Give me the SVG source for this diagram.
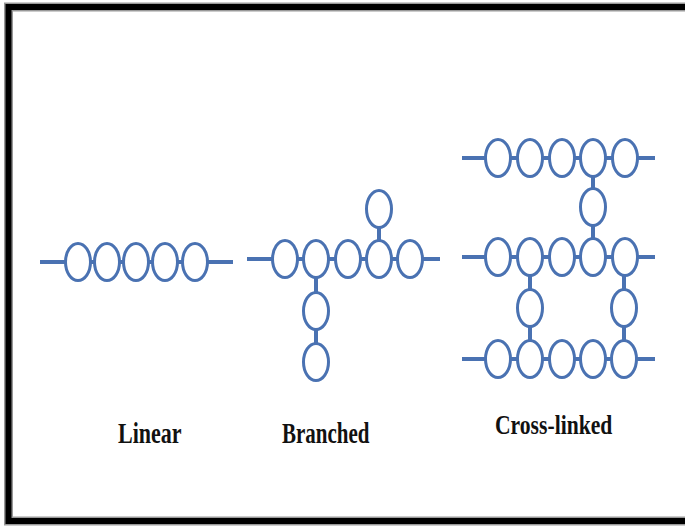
<svg xmlns="http://www.w3.org/2000/svg" width="685" height="528" viewBox="0 0 685 528">
<style>
.ln{stroke:#4a72b2;stroke-width:4;fill:none;stroke-linecap:butt}
.m ellipse{fill:#ffffff;stroke:#4a72b2;stroke-width:3}
.lbl{font-family:"Liberation Serif","Times New Roman",serif;font-weight:bold;font-size:21px;fill:#111111}
</style>
<rect width="685" height="528" fill="#ffffff"/>
<g id="frame">
<path d="M700,7 H8.5 V521 H700" fill="none" stroke="#999999" stroke-width="9"/>
<path d="M700,7 H8.5 V521 H700" fill="none" stroke="#000000" stroke-width="6"/>
</g>
<g id="connectors">
<line class="ln" x1="40" y1="262" x2="233" y2="262"/>
<line class="ln" x1="247" y1="259" x2="440" y2="259"/>
<line class="ln" x1="379" y1="215" x2="379" y2="259"/>
<line class="ln" x1="316" y1="259" x2="316" y2="362"/>
<line class="ln" x1="462" y1="158" x2="655" y2="158"/>
<line class="ln" x1="462" y1="257" x2="655" y2="257"/>
<line class="ln" x1="462" y1="359" x2="655" y2="359"/>
<line class="ln" x1="593" y1="158" x2="593" y2="257"/>
<line class="ln" x1="530" y1="257" x2="530" y2="359"/>
<line class="ln" x1="624" y1="257" x2="624" y2="359"/>
</g>
<g id="linear" class="m">
<ellipse cx="78" cy="262" rx="12.5" ry="18.5"/>
<ellipse cx="107" cy="262" rx="12.5" ry="18.5"/>
<ellipse cx="136" cy="262" rx="12.5" ry="18.5"/>
<ellipse cx="165" cy="262" rx="12.5" ry="18.5"/>
<ellipse cx="195" cy="262" rx="12.5" ry="18.5"/>
</g>
<g id="branched" class="m">
<ellipse cx="285" cy="259" rx="12.5" ry="18.5"/>
<ellipse cx="316" cy="259" rx="12.5" ry="18.5"/>
<ellipse cx="348" cy="259" rx="12.5" ry="18.5"/>
<ellipse cx="379" cy="259" rx="12.5" ry="18.5"/>
<ellipse cx="410" cy="259" rx="12.5" ry="18.5"/>
<ellipse cx="379" cy="209" rx="12.5" ry="18.5"/>
<ellipse cx="316" cy="311" rx="12.5" ry="18.5"/>
<ellipse cx="316" cy="362" rx="12.5" ry="18.5"/>
</g>
<g id="crosslinked" class="m">
<ellipse cx="498" cy="158" rx="12.5" ry="18.5"/>
<ellipse cx="530" cy="158" rx="12.5" ry="18.5"/>
<ellipse cx="562" cy="158" rx="12.5" ry="18.5"/>
<ellipse cx="593" cy="158" rx="12.5" ry="18.5"/>
<ellipse cx="625" cy="158" rx="12.5" ry="18.5"/>
<ellipse cx="593" cy="207" rx="12.5" ry="18.5"/>
<ellipse cx="498" cy="257" rx="12.5" ry="18.5"/>
<ellipse cx="530" cy="257" rx="12.5" ry="18.5"/>
<ellipse cx="562" cy="257" rx="12.5" ry="18.5"/>
<ellipse cx="593" cy="257" rx="12.5" ry="18.5"/>
<ellipse cx="625" cy="257" rx="12.5" ry="18.5"/>
<ellipse cx="530" cy="308" rx="12.5" ry="18.5"/>
<ellipse cx="624" cy="308" rx="12.5" ry="18.5"/>
<ellipse cx="498" cy="359" rx="12.5" ry="18.5"/>
<ellipse cx="530" cy="359" rx="12.5" ry="18.5"/>
<ellipse cx="562" cy="359" rx="12.5" ry="18.5"/>
<ellipse cx="593" cy="359" rx="12.5" ry="18.5"/>
<ellipse cx="624" cy="359" rx="12.5" ry="18.5"/>
</g>
<g id="labels">
<text class="lbl" transform="translate(118,443) scale(1.05,1.4)">Linear</text>
<text class="lbl" transform="translate(282,443) scale(1.0,1.4)">Branched</text>
<text class="lbl" transform="translate(495,434) scale(1.03,1.3)">Cross-linked</text>
</g>
</svg>
